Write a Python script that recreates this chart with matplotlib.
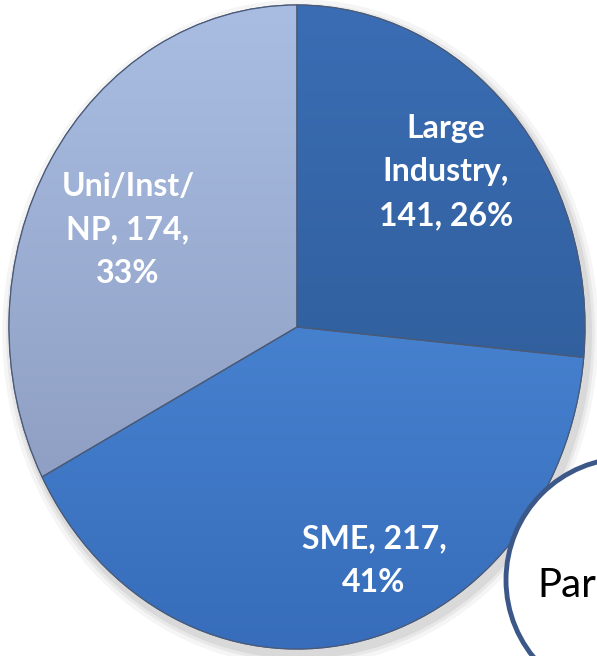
import numpy as np
import matplotlib
matplotlib.use("Agg")
import matplotlib.pyplot as plt
from matplotlib.colors import LinearSegmentedColormap
from matplotlib.patches import Circle, Ellipse, Wedge

# ---- data ----
categories = ["Large\nIndustry", "SME", "Uni/Inst/\nNP"]
counts = [141, 217, 174]
percents = [26, 41, 33]
# colours (top, bottom of gradient)
top_colors = ["#3a6db4", "#5595e2", "#a9bde2"]
bottom_colors = ["#2b568e", "#376dbb", "#8695b9"]
flat_colors = ["#30609f", "#3e7acb", "#97a9cd"]
# how the value line is broken
pct_on_new_line = [False, True, True]
callout_text = "Par"

W, H = 597, 656
fig = plt.figure(figsize=(W / 100, H / 100), dpi=100)
fig.patch.set_facecolor("white")

# pie axes: full figure, elliptical pie via non-equal scaling
ax = fig.add_axes([0, 0, 1, 1])
cx, cy, rx, ry = 297.0, 327.0, 288.0, 322.0
XL = (-cx / rx, (W - cx) / rx)
YL = ((cy - H) / ry, cy / ry)

# soft shadow
for k, a in [(0.035, 0.06), (0.022, 0.08), (0.012, 0.10)]:
    ax.add_patch(Ellipse((0.012, -0.018), 2 + 2 * k, 2 + 2 * k,
                         facecolor="#555555", edgecolor="none", alpha=a, zorder=0))

wedges, _ = ax.pie(counts, colors=flat_colors, startangle=90, counterclock=False,
                   radius=1.0, center=(0, 0),
                   wedgeprops=dict(edgecolor="#4d5d7a", linewidth=0.8))

grad = np.linspace(0, 1, 256).reshape(-1, 1)
for w, tc, bc in zip(wedges, top_colors, bottom_colors):
    cmap = LinearSegmentedColormap.from_list("g", [tc, bc])
    im = ax.imshow(grad, cmap=cmap, extent=(-1, 1, -1, 1), origin="upper",
                   aspect="auto", zorder=w.get_zorder() + 0.01)
    im.set_clip_path(w)
    ax.add_patch(Wedge(w.center, w.r, w.theta1, w.theta2,
                       facecolor="none", edgecolor="#4a5a78",
                       linewidth=0.9, zorder=w.get_zorder() + 0.02))
ax.set_xlim(*XL)
ax.set_ylim(*YL)
ax.set_aspect("auto")
ax.axis("off")

# overlay axes in pixel coordinates for labels and callout
ov = fig.add_axes([0, 0, 1, 1], zorder=5)
ov.set_xlim(0, W)
ov.set_ylim(H, 0)
ov.axis("off")
ov.patch.set_alpha(0)

label_pos = [(446, 172), (374, 561), (128, 230)]
for cat, n, p, nl, (x, y) in zip(categories, counts, percents, pct_on_new_line, label_pos):
    if nl:
        s = f"{cat}, {n},\n{p}%"
    else:
        s = f"{cat},\n{n}, {p}%"
    ov.text(x, y, s, color="white", fontsize=23, fontweight="bold", family="Lato",
            ha="center", va="center", multialignment="center", linespacing=1.6)

ov.add_patch(Circle((628, 580), 122, facecolor="white", edgecolor="#3b5889",
                    linewidth=3.5, zorder=6))
ov.text(537, 597, callout_text, color="black", fontsize=29, family="Lato",
        ha="left", va="baseline", zorder=7)

fig.savefig("out.png", dpi=100, facecolor="white")
